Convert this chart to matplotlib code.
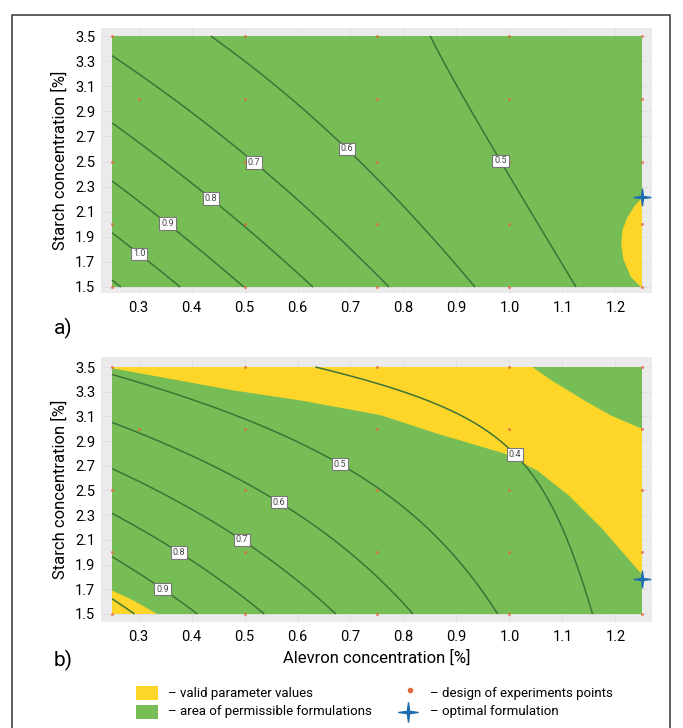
import numpy as np
import matplotlib
matplotlib.use("Agg")
import matplotlib.pyplot as plt
from matplotlib.path import Path
from matplotlib.patches import Rectangle
from matplotlib.lines import Line2D

plt.rcParams['font.family'] = ['Liberation Sans Narrow', 'Roboto', 'DejaVu Sans']

# ---------------- data ----------------
alevron_range = [0.25, 1.25]
starch_range = [1.5, 3.5]
x_ticks = [0.3, 0.4, 0.5, 0.6, 0.7, 0.8, 0.9, 1.0, 1.1, 1.2]
y_ticks = [1.5, 1.7, 1.9, 2.1, 2.3, 2.5, 2.7, 2.9, 3.1, 3.3, 3.5]

# points read along the contour lines of panel a (x, y, level)
a_pts_x = [0.25, 0.268, 0.25, 0.302, 0.377, 0.25, 0.354, 0.497, 0.25, 0.436, 0.631,
           0.25, 0.52, 0.771, 0.4375, 0.692, 0.936, 0.856, 0.979, 1.127]
a_pts_y = [1.55, 1.5, 1.936, 1.768, 1.5, 2.345, 2.0, 1.5, 2.81, 2.204, 1.5,
           3.335, 2.504, 1.5, 3.5, 2.597, 1.5, 3.5, 2.494, 1.5]
a_pts_z = [1.1, 1.1, 1.0, 1.0, 1.0, 0.9, 0.9, 0.9, 0.8, 0.8, 0.8,
           0.7, 0.7, 0.7, 0.6, 0.6, 0.6, 0.5, 0.5, 0.5]
a_levels = [0.5, 0.6, 0.7, 0.8, 0.9, 1.0, 1.1]
a_lab_x = [0.302, 0.354, 0.436, 0.52, 0.692, 0.979]
a_lab_y = [1.768, 2.0, 2.204, 2.504, 2.597, 2.494]

# points read along the contour lines of panel b (x, y, level)
b_pts_x = [0.25, 0.305, 0.25, 0.344, 0.41, 0.25, 0.375, 0.535, 0.25, 0.492, 0.668,
           0.25, 0.561, 0.738, 0.813, 0.25, 0.678, 0.864, 0.974, 0.631, 0.738, 1.002, 1.154]
b_pts_y = [1.61, 1.5, 1.98, 1.694, 1.5, 2.307, 1.99, 1.5, 2.666, 2.085, 1.5,
           3.06, 2.383, 1.96, 1.5, 3.45, 2.70, 2.207, 1.5, 3.5, 3.38, 2.76, 1.5]
b_pts_z = [1.0, 1.0, 0.9, 0.9, 0.9, 0.8, 0.8, 0.8, 0.7, 0.7, 0.7,
           0.6, 0.6, 0.6, 0.6, 0.5, 0.5, 0.5, 0.5, 0.4, 0.4, 0.4, 0.4]
b_levels = [0.4, 0.5, 0.6, 0.7, 0.8, 0.9, 1.0, 1.1]
b_lab_x = [0.344, 0.375, 0.492, 0.561, 0.678, 1.002]
b_lab_y = [1.694, 1.99, 2.085, 2.383, 2.70, 2.76]

# yellow (valid parameter values) regions
a_yel_x = [1.25, 1.235, 1.222, 1.213, 1.211, 1.215, 1.229, 1.248, 1.25]
a_yel_y = [2.21, 2.14, 2.05, 1.95, 1.84, 1.72, 1.58, 1.5, 1.5]

b_band_x = [0.25, 0.48, 0.605, 0.757, 0.864, 0.99, 1.053, 1.112, 1.175, 1.25,
            1.25, 1.19, 1.141, 1.08, 1.043, 0.25]
b_band_y = [3.49, 3.31, 3.23, 3.11, 2.96, 2.80, 2.66, 2.46, 2.19, 1.82,
            3.0, 3.11, 3.23, 3.39, 3.5, 3.5]
b_corner_x = [0.25, 0.29, 0.335, 0.25]
b_corner_y = [1.69, 1.61, 1.5, 1.5]

# design of experiments points
design_x = [0.25, 0.5, 0.75, 1.0, 1.25,
            0.30, 0.5, 0.75, 1.0, 1.25,
            0.25, 0.5, 0.75, 1.0, 1.25,
            0.25, 0.5, 0.75, 1.0, 1.25,
            0.25, 0.5, 0.75, 1.0, 1.25]
design_y = [3.5] * 5 + [3.0] * 5 + [2.5] * 5 + [2.0] * 5 + [1.5] * 5

a_opt = [1.25, 2.22]
b_opt = [1.25, 1.78]

GREEN = '#77bd55'
YELLOW = '#fed62a'
LINE = '#3d7436'

# ---------------- helpers ----------------
def fit_surface(px, py, pz):
    px, py, pz = map(np.asarray, (px, py, pz))
    A = np.column_stack([np.ones_like(px), px, py, px**2, py**2, px * py])
    c, *_ = np.linalg.lstsq(A, pz, rcond=None)
    return lambda X, Y: c[0] + c[1]*X + c[2]*Y + c[3]*X**2 + c[4]*Y**2 + c[5]*X*Y

star_path = Path([(0, 1), (0.12, 0.12), (1, 0), (0.12, -0.12), (0, -1),
                  (-0.12, -0.12), (-1, 0), (-0.12, 0.12), (0, 1)],
                 [Path.MOVETO] + [Path.LINETO] * 7 + [Path.CLOSEPOLY])

W, H = 683, 728
fig = plt.figure(figsize=(W / 100, H / 100), dpi=100)

def fx(p): return p / W
def fy(p): return 1 - p / H

gx = np.linspace(alevron_range[0], alevron_range[1], 300)
gy = np.linspace(starch_range[0], starch_range[1], 300)
GX, GY = np.meshgrid(gx, gy)

def panel(ax, pts, levels, lab_x, lab_y, fills, opt, ylim):
    ax.set_facecolor('#ebebeb')
    for s in ax.spines.values():
        s.set_visible(False)
    ax.add_patch(Rectangle((alevron_range[0], starch_range[0]),
                           alevron_range[1] - alevron_range[0],
                           starch_range[1] - starch_range[0],
                           facecolor=GREEN, edgecolor='none', zorder=1))
    for fxs, fys in fills:
        ax.fill(fxs, fys, color=YELLOW, lw=0, zorder=2)
    f = fit_surface(*pts)
    Z = f(GX, GY)
    cs = ax.contour(GX, GY, Z, levels=levels, colors=LINE, linewidths=1.1, zorder=3)
    ax.clabel(cs, manual=list(zip(lab_x, lab_y)), inline=False, fmt='%.1f', fontsize=6.5)
    for t in cs.labelTexts:
        t.set_rotation(0)
        t.set_color('#444444')
        t.set_zorder(6)
        t.set_bbox(dict(facecolor='white', edgecolor='#777777', linewidth=0.8, pad=1.3))
    ax.scatter(design_x, design_y, s=5, color='#e4683a', alpha=0.75, lw=0, zorder=4)
    ax.plot([opt[0]], [opt[1]], marker=star_path, markersize=12, color='#1f6cb0',
            ls='none', zorder=7, clip_on=False)
    ax.set_xlim(0.2286, 1.269)
    ax.set_ylim(*ylim)
    ax.set_xticks(x_ticks)
    ax.set_xticklabels([f'{v:.1f}' for v in x_ticks])
    ax.set_yticks(y_ticks)
    ax.set_yticklabels([f'{v:.1f}' for v in y_ticks])
    ax.tick_params(length=0, labelsize=10.5, pad=6)
    ax.tick_params(axis='y', pad=4)
    ax.grid(True, color='#dedede', lw=0.6, zorder=0)
    ax.set_axisbelow(True)
    ax.set_ylabel('Starch concentration [%]', fontsize=12, labelpad=5)

axA = fig.add_axes([fx(100.7), fy(293), fx(652) - fx(100.7), fy(28) - fy(293)])
panel(axA, (a_pts_x, a_pts_y, a_pts_z), a_levels, a_lab_x, a_lab_y,
      [(a_yel_x, a_yel_y)], a_opt, (1.452, 3.564))

axB = fig.add_axes([fx(100.7), fy(622), fx(652) - fx(100.7), fy(357) - fy(622)])
panel(axB, (b_pts_x, b_pts_y, b_pts_z), b_levels, b_lab_x, b_lab_y,
      [(b_band_x, b_band_y), (b_corner_x, b_corner_y)], b_opt, (1.435, 3.581))
axB.set_xlabel('Alevron concentration [%]', fontsize=12, labelpad=4)

fig.text(fx(54), fy(328), 'a)', fontsize=15, va='center', ha='left')
fig.text(fx(54), fy(660), 'b)', fontsize=15, va='center', ha='left')

# legend
fig.add_artist(Rectangle((fx(136), fy(700)), fx(22), 14 / H, transform=fig.transFigure,
                         facecolor=YELLOW, edgecolor='none'))
fig.add_artist(Rectangle((fx(136), fy(719)), fx(22), 14 / H, transform=fig.transFigure,
                         facecolor=GREEN, edgecolor='none'))
fig.text(fx(168), fy(693), '– valid parameter values', fontsize=9.5, va='center')
fig.text(fx(168), fy(712), '– area of permissible formulations', fontsize=9.5, va='center')
fig.add_artist(Line2D([fx(410)], [fy(690)], transform=fig.transFigure, marker='o',
                      markersize=3, color='#e4683a', ls='none'))
fig.add_artist(Line2D([fx(408)], [fy(712)], transform=fig.transFigure, marker=star_path,
                      markersize=14, color='#1f6cb0', ls='none'))
fig.text(fx(430), fy(693), '– design of experiments points', fontsize=9.5, va='center')
fig.text(fx(430), fy(712), '– optimal formulation', fontsize=9.5, va='center')

# outer frame
fig.add_artist(Line2D([fx(12), fx(12), fx(670), fx(670)], [0, fy(15), fy(15), 0],
                      transform=fig.transFigure, color='#444444', lw=1.2))

fig.savefig('out.png', dpi=100)
